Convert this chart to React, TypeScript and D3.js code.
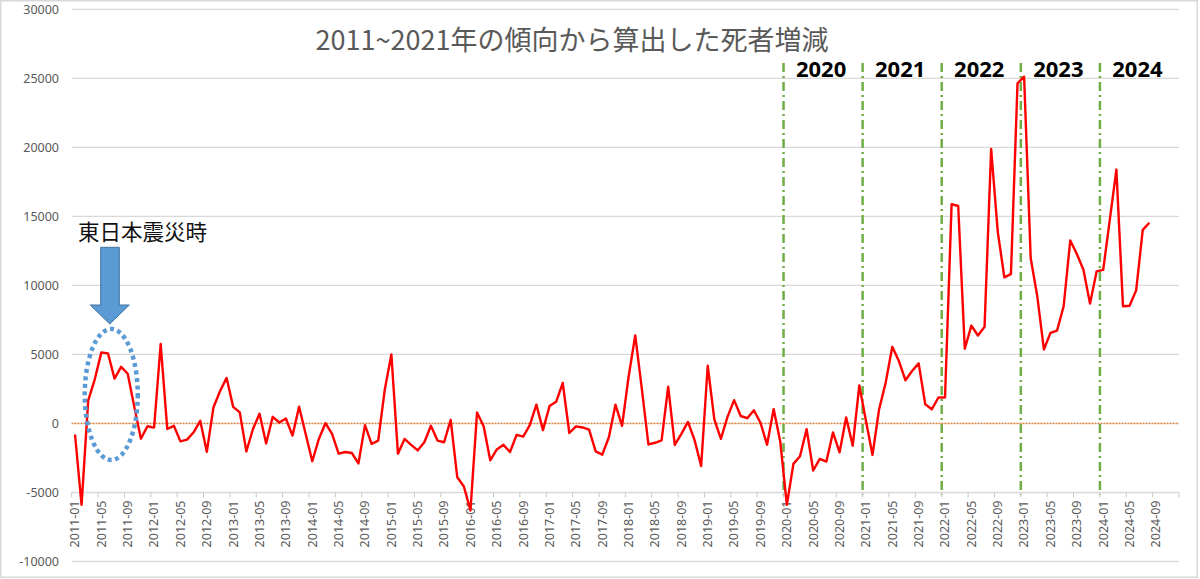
import { useEffect, useRef } from 'react';
import * as d3 from 'd3';

// monthly values, 2011-01 .. 2024-08
const values2011 = [-800, -5900, 1650, 3200, 5150, 5080, 3250, 4100, 3600, 1200, -1100, -200];
const values2012 = [-300, 5750, -400, -170, -1300, -1170, -640, 190, -2050, 1150, 2330, 3300];
const values2013 = [1200, 800, -2030, -400, 700, -1450, 480, 70, 360, -880, 1210, -770];
const values2014 = [-2740, -1120, 20, -760, -2190, -2070, -2140, -2900, -120, -1480, -1240, 2450];
const values2015 = [5000, -2190, -1120, -1550, -1950, -1360, -170, -1240, -1360, 260, -3900, -4570];
const values2016 = [-6300, 790, -210, -2670, -1880, -1550, -2070, -830, -950, -120, 1360, -480];
const values2017 = [1260, 1570, 2930, -690, -210, -290, -450, -2020, -2260, -1000, 1360, -170];
const values2018 = [3400, 6380, 2500, -1520, -1400, -1230, 2670, -1560, -760, 110, -1200, -3080];
const values2019 = [4180, 300, -1110, 480, 1690, 540, 380, 960, 50, -1540, 1040, -1300];
const values2020 = [-5900, -2930, -2380, -410, -3410, -2570, -2760, -650, -2090, 430, -1610, 2760];
const values2021 = [200, -2280, 1030, 2960, 5550, 4520, 3130, 3800, 4350, 1390, 1030, 1880];
const values2022 = [1880, 15890, 15750, 5410, 7090, 6370, 7000, 19880, 13900, 10580, 10820, 24640];
const values2023 = [25120, 11970, 9210, 5360, 6560, 6730, 8490, 13250, 12280, 11130, 8680, 11010];
const values2024 = [11130, 14740, 18390, 8490, 8530, 9640, 14020, 14540];

const startYear = 2011;
const endYear = 2024;
const yTicks = [-10000, -5000, 0, 5000, 10000, 15000, 20000, 25000, 30000];
const markedYears = ['2020', '2021', '2022', '2023', '2024'];
const title = '2011~2021年の傾向から算出した死者増減';
const note = '東日本震災時';

const App = () => {
  const ref = useRef<SVGSVGElement>(null);

  useEffect(() => {
    document.body.style.margin = '0';
    const W = 1200;
    const H = 579;
    const svg = d3.select(ref.current).attr('width', W).attr('height', H);
    svg.selectAll('*').remove();

    const values = [
      ...values2011, ...values2012, ...values2013, ...values2014, ...values2015,
      ...values2016, ...values2017, ...values2018, ...values2019, ...values2020,
      ...values2021, ...values2022, ...values2023, ...values2024,
    ];

    // category labels for every month of the axis
    const months: string[] = [];
    for (let y = startYear; y <= endYear; y++) {
      for (let m = 1; m <= 12; m++) months.push(`${y}-${String(m).padStart(2, '0')}`);
    }

    const x = d3.scaleBand().domain(months).range([71.7, 1179]).padding(0);
    const y = d3.scaleLinear().domain([-10000, 30000]).range([561.5, 9.3]);
    const bw = x.bandwidth();
    const cx = (i: number) => (x(months[0]) || 0) + bw * (i + 0.5);

    // outer frame
    svg.append('rect')
      .attr('x', 0.75).attr('y', 0.75).attr('width', 1196.5).attr('height', 576.5)
      .attr('fill', '#fff').attr('stroke', '#d9d9d9').attr('stroke-width', 1.5);

    // grid + y labels
    svg.append('g').selectAll('line').data(yTicks).enter().append('line')
      .attr('x1', 71.7).attr('x2', 1179)
      .attr('y1', (d) => y(d)).attr('y2', (d) => y(d))
      .attr('stroke', '#d9d9d9').attr('stroke-width', 1.3);

    svg.append('g').selectAll('text').data(yTicks).enter().append('text')
      .attr('x', 59).attr('y', (d) => y(d)).attr('dy', '0.35em')
      .attr('text-anchor', 'end')
      .attr('font-family', '"Noto Sans", sans-serif').attr('font-size', 12.5)
      .attr('fill', '#595959')
      .text((d) => String(d));

    // category axis sits at -5000
    const axisY = y(-5000);
    const tickIdx = d3.range(0, months.length + 1, 4);
    svg.append('g').selectAll('line').data(tickIdx).enter().append('line')
      .attr('x1', (i) => 71.7 + i * bw).attr('x2', (i) => 71.7 + i * bw)
      .attr('y1', axisY).attr('y2', axisY + 5)
      .attr('stroke', '#c8c8c8').attr('stroke-width', 1);

    const labelIdx = d3.range(0, values.length + 1, 4);
    svg.append('g').selectAll('text').data(labelIdx).enter().append('text')
      .attr('transform', (i) => `translate(${cx(i)},${axisY + 8}) rotate(-90)`)
      .attr('dy', '0.35em')
      .attr('text-anchor', 'end')
      .attr('font-family', '"Noto Sans", sans-serif').attr('font-size', 12.5)
      .attr('fill', '#595959')
      .text((i) => months[i]);

    // zero line
    svg.append('line')
      .attr('x1', 71.7).attr('x2', 1179).attr('y1', y(0)).attr('y2', y(0))
      .attr('stroke', '#f07a22').attr('stroke-width', 1.5).attr('stroke-dasharray', '1.5,1.5');

    // year separators
    const lineX = markedYears.map((yr) => x(`${yr}-01`) || 0);
    svg.append('g').selectAll('line').data(lineX).enter().append('line')
      .attr('x1', (d) => d).attr('x2', (d) => d)
      .attr('y1', 63).attr('y2', axisY + 2)
      .attr('stroke', '#70ad47').attr('stroke-width', 2.5)
      .attr('stroke-dasharray', '9,4,2,4');

    svg.append('g').selectAll('text').data(markedYears).enter().append('text')
      .attr('x', (d, i) => ((lineX[i] + (i < lineX.length - 1 ? lineX[i + 1] : 1179)) / 2) - 2)
      .attr('y', 77)
      .attr('text-anchor', 'middle')
      .attr('font-family', '"Noto Sans", sans-serif').attr('font-weight', 'bold')
      .attr('font-size', 22).attr('fill', '#000')
      .text((d) => d);

    // data line
    const line = d3.line<number>()
      .x((d, i) => cx(i))
      .y((d) => y(d));
    svg.append('path')
      .datum(values)
      .attr('d', line)
      .attr('fill', 'none')
      .attr('stroke', '#ff0000')
      .attr('stroke-width', 2.4)
      .attr('stroke-linejoin', 'round');

    // title
    svg.append('text')
      .attr('x', 572).attr('y', 50)
      .attr('text-anchor', 'middle')
      .attr('font-family', '"Noto Sans CJK JP", sans-serif').attr('font-size', 27)
      .attr('fill', '#595959')
      .text(title);

    // earthquake annotation
    svg.append('text')
      .attr('x', 78).attr('y', 240)
      .attr('font-family', '"Noto Sans CJK JP", sans-serif').attr('font-size', 21.5)
      .attr('fill', '#111')
      .text(note);

    svg.append('path')
      .attr('d', 'M100.7,247.3 L119.3,247.3 L119.3,305 L129.3,305 L109.8,324 L90.2,305 L100.7,305 Z')
      .attr('fill', '#5b9bd5').attr('stroke', '#41719c').attr('stroke-width', 1);

    svg.append('ellipse')
      .attr('cx', cx(5.5)).attr('cy', y(2100))
      .attr('rx', 26.5).attr('ry', 65.5)
      .attr('fill', 'none')
      .attr('stroke', '#5b9bd5').attr('stroke-width', 4.5)
      .attr('stroke-dasharray', '4,3.5');
  }, []);

  return <svg ref={ref} style={{ display: 'block' }}></svg>;
};

export default App;
